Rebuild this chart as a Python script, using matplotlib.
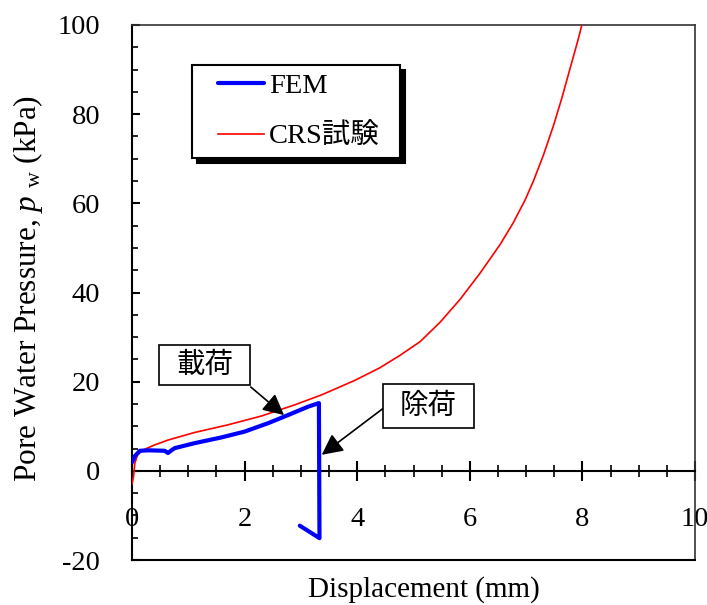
import matplotlib
matplotlib.use("Agg")
import matplotlib.pyplot as plt
from matplotlib.patches import Rectangle
from matplotlib.ticker import MultipleLocator

plt.rcParams['font.family'] = ['Liberation Serif', 'Noto Sans CJK JP']
plt.rcParams['mathtext.fontset'] = 'custom'
plt.rcParams['mathtext.rm'] = 'Liberation Serif'
plt.rcParams['mathtext.it'] = 'Liberation Serif:italic'
plt.rcParams['axes.unicode_minus'] = False

# FEM result: displacement (mm) vs pore water pressure (kPa)
fem_disp = [0.0, 0.05, 0.14, 0.30, 0.58, 0.64, 0.70, 0.76, 1.11, 1.59, 2.00,
            2.42, 2.77, 3.13, 3.32, 3.33, 2.98]
fem_pw = [1.9, 3.3, 4.5, 4.6, 4.5, 4.0, 4.6, 5.1, 6.2, 7.5, 8.8,
          10.7, 12.5, 14.4, 15.2, -15.1, -12.3]

# CRS test measurement
crs_disp = [0.0, 0.03, 0.05, 0.10, 0.20, 0.40, 0.64, 1.11, 1.70, 2.30, 2.89,
            3.36, 3.96, 4.40, 4.76, 5.12, 5.47, 5.83, 6.18, 6.54, 6.77, 6.98,
            7.13, 7.31, 7.48, 7.63, 7.78, 7.93, 7.99, 8.01]
crs_pw = [-3.0, -1.0, 1.7, 3.6, 4.7, 5.8, 6.9, 8.6, 10.3, 12.3, 14.8,
          17.0, 20.3, 23.1, 25.9, 29.0, 33.3, 38.5, 44.3, 50.8, 55.6, 60.7,
          65.0, 70.9, 77.2, 83.4, 90.2, 97.0, 100.0, 101.5]

x_ticks = [0, 2, 4, 6, 8, 10]
y_ticks = [-20, 0, 20, 40, 60, 80, 100]

series_labels = ['FEM', 'CRS試験']
load_label = '載荷'
unload_label = '除荷'
load_arrow = ((2.11, 18.8), (2.70, 12.5))      # (tail, tip)
unload_arrow = ((4.46, 14.0), (3.37, 3.6))

W, H = 707, 605
fig = plt.figure(figsize=(W / 100, H / 100), dpi=100)
ax = fig.add_axes([132 / W, 1 - 560 / H, 563 / W, 535 / H])

crs_line, = ax.plot(crs_disp, crs_pw, color='#ff0000', lw=1.2, zorder=3)
fem_line, = ax.plot(fem_disp, fem_pw, color='#0000ff', lw=3.0,
                    solid_capstyle='round', solid_joinstyle='round', zorder=4)

ax.set_xlim(0, 10)
ax.set_ylim(-20, 100)
ax.set_xticks(x_ticks)
ax.set_yticks(y_ticks)
ax.xaxis.set_minor_locator(MultipleLocator(0.5))
ax.yaxis.set_minor_locator(MultipleLocator(5))

# x axis drawn through p_w = 0
ax.spines['bottom'].set_position(('data', 0))
ax.spines['bottom'].set_linewidth(1.5)
ax.spines['left'].set_linewidth(1.5)
for s in ('top', 'right'):
    ax.spines[s].set_linewidth(1.2)
    ax.spines[s].set_color('#333333')
ax.axhline(-20, color='k', lw=1.5, clip_on=False, zorder=5)

ax.tick_params(axis='x', which='major', direction='inout', length=14, width=1.5,
               pad=19, labelsize=20.5, top=False)
ax.tick_params(axis='x', which='minor', direction='inout', length=9, width=1.2, top=False)
ax.tick_params(axis='y', which='major', direction='in', length=6, width=1.5,
               pad=23, labelsize=20.5, right=False)
ax.tick_params(axis='y', which='minor', direction='in', length=4.5, width=1.2, right=False)

fig.text(424 / W, 1 - 590 / H, 'Displacement (mm)', fontsize=21,
         ha='center', va='center')
fig.text(28 / W, 1 - 288 / H, r'Pore Water Pressure, $p_{\ \,\mathrm{w}}$ (kPa)',
         fontsize=22.5, rotation=90, ha='center', va='center')

# legend box with drop shadow
lx0, ly0, lx1, ly1 = 192, 65, 400, 158
shadow = Rectangle(((lx0 + 5) / W, 1 - (ly1 + 5) / H), (lx1 - lx0) / W,
                   (ly1 - ly0) / H, transform=fig.transFigure,
                   facecolor='k', edgecolor='k', lw=1.5, zorder=6)
frame = Rectangle((lx0 / W, 1 - ly1 / H), (lx1 - lx0) / W, (ly1 - ly0) / H,
                  transform=fig.transFigure, facecolor='white',
                  edgecolor='k', lw=1.5, zorder=7)
fig.patches.extend([shadow, frame])
leg = fig.legend([fem_line, crs_line], series_labels, loc='center',
                 bbox_to_anchor=(299 / W, 1 - 111.5 / H), fontsize=20.5,
                 frameon=False, handlelength=1.6, handletextpad=0.2,
                 labelspacing=0.85, borderpad=0)
leg.set_zorder(8)


# callout boxes with arrows
def callout(text, box_px, arrow):
    x0, y0, x1, y1 = box_px
    r = Rectangle((x0 / W, 1 - y1 / H), (x1 - x0) / W, (y1 - y0) / H,
                  transform=fig.transFigure, facecolor='white',
                  edgecolor='k', lw=1.2, zorder=9)
    fig.patches.append(r)
    fig.text((x0 + x1) / 2 / W, 1 - (y0 + y1) / 2 / H, text, fontsize=20.5,
             family='Noto Sans CJK JP', ha='center', va='center', zorder=10)
    tail, tip = arrow
    ax.annotate('', xy=tip, xytext=tail,
                arrowprops=dict(arrowstyle='-|>', color='k', lw=1.2,
                                mutation_scale=32, shrinkA=0, shrinkB=0),
                zorder=6)


callout(load_label, (159, 345, 250, 385), load_arrow)
callout(unload_label, (383, 384, 474, 428), unload_arrow)

fig.savefig('out.png', dpi=100)
